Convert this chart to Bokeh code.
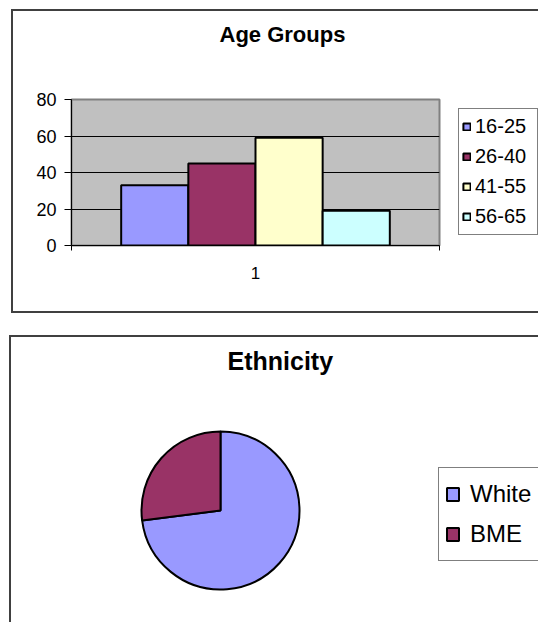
from bokeh.plotting import figure
from bokeh.models import ColumnDataSource, Range1d, FixedTicker, Title
from bokeh.embed import file_html
from bokeh.resources import INLINE
import math

# ---- data ----
age_groups = ["16-25", "26-40", "41-55", "56-65"]
age_counts = [33, 45, 59, 19]
age_colors = ["#9999FF", "#993366", "#FFFFCC", "#CCFFFF"]
category_labels = ["1"]
y_ticks = [0, 20, 40, 60, 80]

ethnic_groups = ["White", "BME"]
ethnic_shares = [73, 27]
ethnic_colors = ["#9999FF", "#993366"]

FONT = "Liberation Sans"
BOX = "2px solid #404040"


def style_legend(lg, location, margin, font_size, glyph_w, glyph_h, label_h, label_w,
                 standoff, padding, spacing):
    lg.location = location
    lg.margin = margin
    lg.padding = padding
    lg.spacing = spacing
    lg.label_height = label_h
    lg.label_width = label_w
    lg.glyph_width = glyph_w
    lg.glyph_height = glyph_h
    lg.label_standoff = standoff
    lg.label_text_font = FONT
    lg.label_text_font_size = font_size
    lg.label_text_color = "black"
    lg.border_line_color = "black"
    lg.border_line_width = 1
    lg.background_fill_color = "white"
    lg.background_fill_alpha = 1


def add_heading(p, text, size, offset, gap):
    # blank strip between the plot area and the heading, then the heading itself
    p.add_layout(Title(text=" ", text_font_size="1px", standoff=gap), "above")
    p.add_layout(Title(text=text, align="left", offset=offset, standoff=0,
                       text_font=FONT, text_font_style="bold", text_font_size=size,
                       text_color="black"), "above")


# ---- clustered column chart ----
n = len(age_groups)
group_width = 0.73
bar_w = group_width / n
xs = [1 - group_width / 2 + bar_w * (i + 0.5) for i in range(n)]
bar_src = ColumnDataSource(dict(x=xs, top=age_counts, group=age_groups, color=age_colors))

p1 = figure(frame_width=368, frame_height=146, x_range=Range1d(0.5, 1.5), y_range=Range1d(0, 80),
            output_backend="svg", toolbar_location=None, tools="",
            min_border_left=58, min_border_right=0, min_border_top=88, min_border_bottom=66)
p1.background_fill_color = "#C0C0C0"
p1.border_fill_color = "white"
p1.outline_line_color = "#808080"
p1.outline_line_width = 2

p1.vbar(x="x", top="top", bottom=0, width=bar_w, source=bar_src,
        fill_color="color", line_color="black", line_width=2, legend_field="group")

p1.xgrid.visible = False
p1.ygrid.ticker = FixedTicker(ticks=y_ticks[1:-1])
p1.ygrid.grid_line_color = "black"
p1.ygrid.grid_line_width = 1

ya = p1.yaxis[0]
ya.ticker = FixedTicker(ticks=y_ticks)
ya.axis_line_color = "black"
ya.major_tick_line_color = "black"
ya.major_tick_out = 7
ya.major_tick_in = 0
ya.minor_tick_out = 0
ya.major_label_standoff = 8
ya.major_label_text_font = FONT
ya.major_label_text_font_size = "18px"
ya.major_label_text_color = "black"

xa = p1.xaxis[0]
xa.ticker = FixedTicker(ticks=[1], minor_ticks=[0.5, 1.5])
xa.major_label_overrides = {1: category_labels[0]}
xa.axis_line_color = "black"
xa.major_tick_line_color = None
xa.major_tick_out = 0
xa.major_tick_in = 0
xa.minor_tick_line_color = "black"
xa.minor_tick_out = 5
xa.minor_tick_in = 0
xa.major_label_standoff = 16
xa.major_label_text_font = FONT
xa.major_label_text_font_size = "17px"
xa.major_label_text_color = "black"

lg1 = p1.legend[0]
if lg1 in p1.center:
    p1.center.remove(lg1)
style_legend(lg1, (19, 10), 10, "20px", 9, 9, 29, 59, 4, 3, 1)
p1.add_layout(lg1, "right")

add_heading(p1, "Age Groups", "22px", 148, 50)

p1.margin = (9, 0, 0, 11)
p1.styles = {"border-left": BOX, "border-top": BOX, "border-bottom": BOX}

# ---- pie chart ----
total = sum(ethnic_shares)
starts, ends = [], []
acc = 0.0
for v in ethnic_shares:
    # slices run clockwise from twelve o'clock
    ends.append(math.pi / 2 - 2 * math.pi * acc / total)
    acc += v
    starts.append(math.pi / 2 - 2 * math.pi * acc / total)
pie_src = ColumnDataSource(dict(start=starts, end=ends, group=ethnic_groups, color=ethnic_colors))

p2 = figure(frame_width=338, frame_height=200, x_range=Range1d(-1.5, 2.725), y_range=Range1d(-1.25, 1.25),
            output_backend="svg", toolbar_location=None, tools="",
            min_border_left=89, min_border_right=0, min_border_top=73, min_border_bottom=12)
p2.axis.visible = False
p2.grid.visible = False
p2.outline_line_color = None
p2.background_fill_color = "white"
p2.border_fill_color = "white"

p2.wedge(x=0, y=0, radius=79, radius_units="screen", start_angle="start", end_angle="end",
         source=pie_src, fill_color="color", line_color="black", line_width=2,
         legend_field="group")

lg2 = p2.legend[0]
if lg2 in p2.center:
    p2.center.remove(lg2)
style_legend(lg2, (0, 49), 0, "24px", 15, 16, 40, 63, 10, 6, 0)
p2.add_layout(lg2, "right")

add_heading(p2, "Ethnicity", "25px", 127, 33)

p2.margin = (22, 0, 0, 9)
p2.styles = {"border-left": BOX, "border-top": BOX}

open("out.html", "w").write(file_html([p1, p2], INLINE))
